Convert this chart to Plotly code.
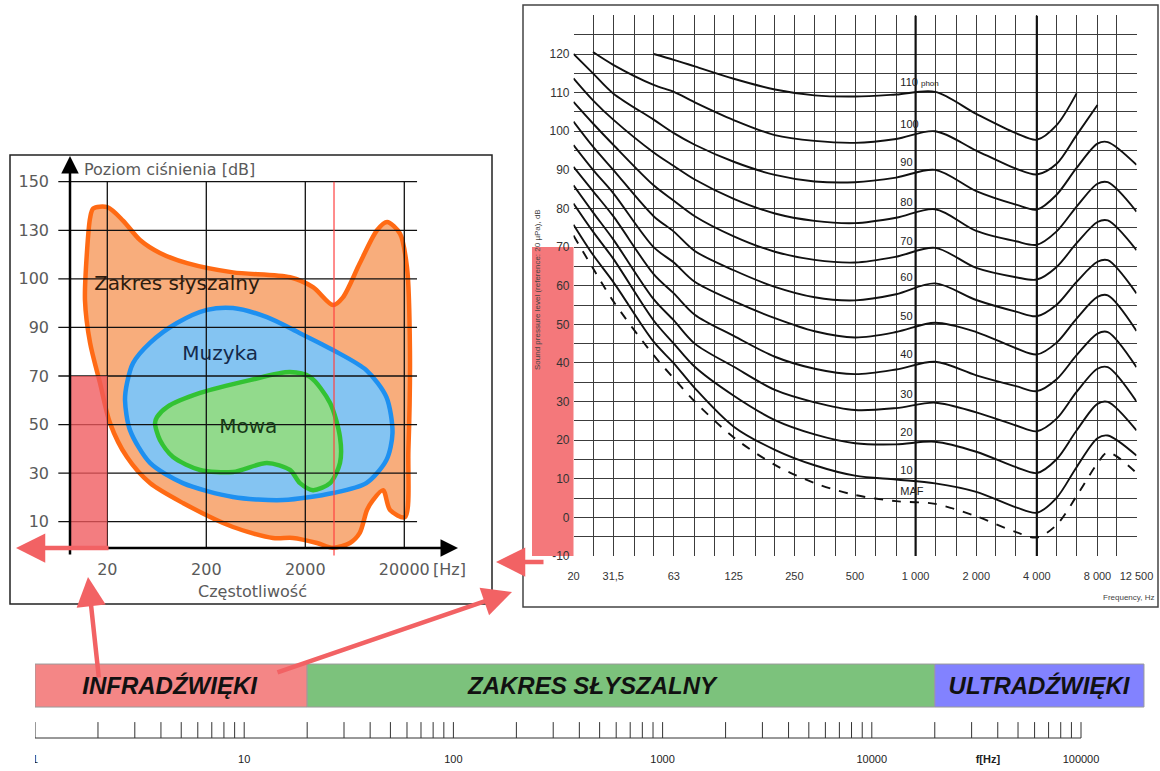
import numpy as np
import plotly.graph_objects as go

W, H = 1160, 771

# ======================= DATA =======================
# ---- left panel: auditory area (Zakres słyszalny / Muzyka / Mowa) ----
L_FREQ_TICKS = [20, 200, 2000, 20000]
L_FREQ_TICKTEXT = ["20", "200", "2000", "20000"]
L_DB_TICKS = [10, 30, 50, 70, 90, 100, 130, 150]

HEAR_F = [14.4, 20, 28.8, 42.8, 68, 128, 372, 1400, 2390, 3810, 4800, 7100, 10600, 13400,
          18100, 21300, 22800, 22000, 20300, 14350, 12200, 9650, 8400, 7100, 5650, 3810,
          2625, 1500, 942, 372, 116, 54, 31.6, 21.3, 16.9, 13.4, 11.9, 12.5, 13.4]
HEAR_DB = [139, 139.5, 134, 124, 116, 109.7, 104, 101, 98.3, 94.6, 96.2, 109.6, 130, 133.4,
           128, 107, 80.6, 39.5, 11.9, 14.8, 23, 18.9, 14.8, 5.8, 2, 0.2,
           2, 3.9, 3.9, 8, 17.7, 25.9, 36.6, 50.6, 67, 83.6, 95.6, 117.7, 135]

MUSIC_F = [31.6, 36.4, 54, 101, 203, 372, 820, 1767, 3810, 8260, 13200, 15200, 13200, 8260,
           3810, 1190, 372, 116, 54, 33.9, 30.2]
MUSIC_DB = [67, 75.3, 83.6, 90.9, 93.6, 94, 92.1, 87.6, 80.7, 72.4, 61.3, 46.5, 35.4, 25.9,
            21.8, 18.9, 20.2, 25.9, 34.2, 47.7, 60]

SPEECH_F = [63.6, 80.2, 173, 552, 1400, 2230, 3560, 4480, 4480, 3560, 2390, 1767, 1400, 820,
            372, 173, 92.3, 68, 60.7]
SPEECH_DB = [53.1, 57.2, 63, 68.3, 71.6, 69.6, 58.9, 44.9, 34.2, 25.9, 23, 25.9, 31.3, 34.2,
             30.5, 31.3, 36.6, 43.6, 50.6]

REGION_LABELS = ["Zakres słyszalny", "Muzyka", "Mowa"]
REGION_LABEL_F = [101, 276, 530]
REGION_LABEL_DB = [98.7, 78.6, 48.6]

INFRA_BOX_F = [8.4, 20]
INFRA_BOX_DB = [0, 70]
LIMIT_LINE_F = 3900

# ---- right panel: equal-loudness contours ----
ISO_F = [20, 25, 31.5, 50, 63, 80, 125, 200, 315, 500, 800, 1250, 2000, 3150, 4000, 5000,
         6300, 8000, 9000, 12500]
SPL_110 = [None, None, None, 120, 118.5, 116.8, 113.6, 110.8, 109.3, 109, 109.5, 110.2, 104.5,
           99.5, 97.8, 101.5, 109.8, None, None, None]
SPL_100 = [None, 120.5, 117.2, 112, 110.2, 107.5, 102.9, 99, 97.5, 97, 98, 100, 95, 90.3,
           88.8, 91.5, 99, 106.8, None, None]
SPL_90 = [120, 115, 109.8, 103, 99.5, 96.5, 92.1, 88.7, 87, 86.8, 88, 90, 84.5, 81, 79.7,
          83.5, 90.5, 96.8, 97.2, 91.3]
SPL_80 = [113.7, 108, 103, 94.5, 91, 87.5, 82.5, 78.7, 76.8, 76.2, 77.6, 79.8, 74.2, 71.5,
          70.6, 74, 80.5, 86.4, 86.8, 79.2]
SPL_70 = [107.6, 102, 96.5, 86, 82, 78, 72.8, 68.8, 66.7, 66, 67.5, 69.8, 64.6, 62.2, 61.6,
          64.8, 71, 76.5, 76.9, 69.2]
SPL_60 = [102.5, 96, 90, 78, 74, 69, 64, 59.7, 57, 56.2, 57.8, 60.6, 56.3, 53.3, 52.1, 55,
          61, 66.2, 66.6, 58]
SPL_50 = [96.4, 90, 84, 70, 66, 61, 56, 51.6, 48.2, 46.6, 48, 50.4, 48, 43.8, 42.2, 45.2,
          51.5, 57.1, 57.5, 48.3]
SPL_40 = [90.8, 84.5, 78, 63, 58, 52.5, 47, 41.6, 38.5, 37.1, 38.3, 40.3, 36.8, 34, 32.7,
          35.7, 42, 47.6, 48, 38.9]
SPL_30 = [86, 79, 72, 56.5, 51, 45, 39, 33, 29.8, 27.8, 28.3, 29.7, 27.2, 23.8, 22.3, 25.5,
          32.5, 38.5, 38.9, 30]
SPL_20 = [81.3, 74, 67, 51, 45, 39, 31.5, 25.2, 21.5, 19.2, 18.9, 19.6, 17, 13, 11.5, 15,
          22.5, 29.4, 29.9, 22.5]
SPL_10 = [75.8, 68, 61, 45.5, 39.9, 33.5, 23.5, 17.5, 13.5, 10.8, 9.8, 8.8, 6.6, 2.6, 1.2, 5,
          13, 20.5, 21.2, 16]
SPL_MAF = [73, 64.5, 56, 42, 36, 30, 20.7, 13.6, 8.9, 5.8, 4.2, 3.5, 0.3, -3.8, -5.2, -2,
           5.5, 14, 16.8, 11.5]
PHON_LABELS = ['110 <span style="font-size:8px">phon</span>', "100", "90", "80", "70", "60",
               "50", "40", "30", "20", "10", "MAF"]

THIRD_OCT = [20, 25, 31.5, 40, 50, 63, 80, 100, 125, 160, 200, 250, 315, 400, 500, 630, 800,
             1000, 1250, 1600, 2000, 2500, 3150, 4000, 5000, 6300, 8000, 10000, 12500]
R_FREQ_LABELED = [20, 31.5, 63, 125, 250, 500, 1000, 2000, 4000, 8000, 12500]
R_FREQ_TEXT = ["20", "31,5", "63", "125", "250", "500", "1 000", "2 000", "4 000", "8 000",
               "12 500"]
R_HEAVY_F = [1000, 4000]

# ---- bottom band ----
BANDS = ["INFRADŹWIĘKI", "ZAKRES SŁYSZALNY", "ULTRADŹWIĘKI"]
BAND_EDGES_HZ = [1, 20, 20000, 200000]
BAND_COLORS = ["#F48686", "#7CC27C", "#8282FF"]
BAND_LABEL_HZ = [4.4, 460, 63000]
B_AXIS_LABEL_HZ = [1, 10, 100, 1000, 10000, 100000]

# ======================= LAYOUT CONSTANTS (pixels) =======================
def px(x): return x / W
def py(y): return 1 - y / H

# left panel
L_X20_PX, L_PX_PER_DEC = 107.3, 99.0
L_XDOM = (56, 470)
L_SLOT0_PX, L_PX_PER_SLOT = 521.7, 48.57
L_YDOM = (160, 558)
SLOT_DB = [0] + L_DB_TICKS
SLOT_POS = [-0.547] + list(range(len(L_DB_TICKS)))
L_GRID_F = (6.4, 26900)

def slot(db):
    return np.interp(np.asarray(db, dtype=float), SLOT_DB, SLOT_POS)

# right panel
R_XDOM = (573.5, 1136.5)
R_YDOM = (15.4, 556)
R_YRANGE = (-10, 130)

# bottom
B_XDOM = (35, 1147)
B_PX_PER_DEC = 209.2
B_YDOM = (650, 771)
B_BASE_PX, B_UNIT_PX = 738, 43
BAR_Y = (0.72, 1.72)
TICK_H = 0.37

fig = go.Figure()

# ---------------- left panel ----------------
def closed(a):
    return list(a) + [a[0]]

blob_styles = [
    (HEAR_F, HEAR_DB, "#F8AD7C", "#FF6A14"),
    (MUSIC_F, MUSIC_DB, "#84C4F2", "#1E90F0"),
    (SPEECH_F, SPEECH_DB, "#92DA8C", "#33C233"),
]
for fx, dbs, fc, lc in blob_styles:
    fig.add_trace(go.Scatter(x=closed(fx), y=slot(closed(dbs)), mode="lines", fill="toself",
                             fillcolor=fc, line=dict(color=lc, width=4.5, shape="spline",
                                                     smoothing=0.8),
                             xaxis="x", yaxis="y", hoverinfo="skip", showlegend=False))

gx, gy = [], []
for s in range(len(L_DB_TICKS)):
    gx += [L_GRID_F[0], L_GRID_F[1], None]
    gy += [s, s, None]
for f in L_FREQ_TICKS:
    gx += [f, f, None]
    gy += [float(slot(0)), len(L_DB_TICKS) - 1, None]
fig.add_trace(go.Scatter(x=gx, y=gy, mode="lines", line=dict(color="#111", width=1.3),
                         xaxis="x", yaxis="y", hoverinfo="skip", showlegend=False))
fig.add_trace(go.Scatter(x=[LIMIT_LINE_F, LIMIT_LINE_F],
                         y=[float(slot(0)) - 0.15, len(L_DB_TICKS) - 1], mode="lines",
                         line=dict(color="#FF4040", width=1.2), xaxis="x", yaxis="y",
                         hoverinfo="skip", showlegend=False))
bx0, bx1 = INFRA_BOX_F
by0, by1 = slot(INFRA_BOX_DB)
fig.add_trace(go.Scatter(x=[bx0, bx1, bx1, bx0, bx0], y=[by0, by0, by1, by1, by0],
                         mode="lines", fill="toself", fillcolor="rgba(240,88,92,0.78)",
                         line=dict(width=0), xaxis="x", yaxis="y", hoverinfo="skip",
                         showlegend=False))
fig.add_trace(go.Scatter(x=REGION_LABEL_F, y=slot(REGION_LABEL_DB), mode="text",
                         text=REGION_LABELS,
                         textfont=dict(family="DejaVu Sans", size=20,
                                       color=["#2E1C0E", "#142A4C", "#173A17"]),
                         xaxis="x", yaxis="y", hoverinfo="skip", showlegend=False))

# ---------------- right panel ----------------
contours = [SPL_110, SPL_100, SPL_90, SPL_80, SPL_70, SPL_60, SPL_50, SPL_40, SPL_30,
            SPL_20, SPL_10, SPL_MAF]
for f in R_HEAVY_F:
    fig.add_trace(go.Scatter(x=[f, f], y=list(R_YRANGE), mode="lines",
                             line=dict(color="#111", width=2.2), xaxis="x2", yaxis="y2",
                             hoverinfo="skip", showlegend=False))
lab_x, lab_y = [], []
for i, c in enumerate(contours):
    dash = "dash" if i == len(contours) - 1 else "solid"
    fig.add_trace(go.Scatter(x=ISO_F, y=c, mode="lines",
                             line=dict(color="#111", width=1.9, dash=dash, shape="spline",
                                       smoothing=0.9),
                             xaxis="x2", yaxis="y2", hoverinfo="skip", showlegend=False))
    pts = [(np.log10(f), v) for f, v in zip(ISO_F, c) if v is not None]
    lf, lv = zip(*pts)
    lab_x.append(840)
    lab_y.append(float(np.interp(3.0, lf, lv)) + 2.6)
fig.add_trace(go.Scatter(x=lab_x, y=lab_y, mode="text", text=PHON_LABELS,
                         textposition="middle right",
                         textfont=dict(family="Liberation Sans", size=11, color="#222"),
                         xaxis="x2", yaxis="y2", hoverinfo="skip", showlegend=False))

# ---------------- bottom band ----------------
for i, name in enumerate(BANDS):
    a, b = BAND_EDGES_HZ[i], BAND_EDGES_HZ[i + 1]
    fig.add_trace(go.Scatter(x=[a, b, b, a, a],
                             y=[BAR_Y[0], BAR_Y[0], BAR_Y[1], BAR_Y[1], BAR_Y[0]],
                             mode="lines", fill="toself", fillcolor=BAND_COLORS[i],
                             line=dict(color="#9a9a9a", width=1), xaxis="x3", yaxis="y3",
                             hoverinfo="skip", showlegend=False))
fig.add_trace(go.Scatter(x=BAND_LABEL_HZ, y=[sum(BAR_Y) / 2 - 0.05] * 3, mode="text",
                         text=BANDS,
                         textfont=dict(family="Liberation Sans", size=24, color="#111",
                                       weight="bold", style="italic"),
                         xaxis="x3", yaxis="y3", hoverinfo="skip", showlegend=False))
tx, ty = [1, 100000, None], [0, 0, None]
for d in range(5):
    for m in range(1, 10):
        tx += [m * 10 ** d, m * 10 ** d, None]
        ty += [0, TICK_H, None]
tx += [100000, 100000, None]
ty += [0, TICK_H, None]
fig.add_trace(go.Scatter(x=tx, y=ty, mode="lines", line=dict(color="#333", width=1),
                         xaxis="x3", yaxis="y3", hoverinfo="skip", showlegend=False))
fig.add_trace(go.Scatter(x=B_AXIS_LABEL_HZ + [35900], y=[-0.52] * 7, mode="text",
                         text=[str(v) for v in B_AXIS_LABEL_HZ] + ["<b>f[Hz]</b>"],
                         textfont=dict(family="Liberation Sans", size=11, color="#222"),
                         xaxis="x3", yaxis="y3", hoverinfo="skip", showlegend=False))

# ---------------- axes ----------------
gray = "#5A5A5A"
fig.update_layout(
    width=W, height=H, margin=dict(l=0, r=0, t=0, b=0, autoexpand=False),
    paper_bgcolor="white", plot_bgcolor="rgba(0,0,0,0)", showlegend=False,
    xaxis=dict(type="log", domain=[px(L_XDOM[0]), px(L_XDOM[1])],
               range=[np.log10(20) - (L_X20_PX - L_XDOM[0]) / L_PX_PER_DEC,
                      np.log10(20) + (L_XDOM[1] - L_X20_PX) / L_PX_PER_DEC],
               tickvals=L_FREQ_TICKS, ticktext=L_FREQ_TICKTEXT, showgrid=False,
               zeroline=False, showline=False, ticks="", automargin=False,
               tickfont=dict(family="DejaVu Sans", size=16, color=gray),
               ticklabelstandoff=0, anchor="y"),
    yaxis=dict(domain=[py(L_YDOM[1]), py(L_YDOM[0])],
               range=[(L_SLOT0_PX - L_YDOM[1]) / L_PX_PER_SLOT,
                      (L_SLOT0_PX - L_YDOM[0]) / L_PX_PER_SLOT],
               tickvals=list(range(len(L_DB_TICKS))), ticktext=[str(v) for v in L_DB_TICKS],
               showgrid=False, zeroline=False, showline=False, ticks="", automargin=False,
               tickfont=dict(family="DejaVu Sans", size=16, color=gray),
               ticklabelstandoff=6, anchor="x"),
    xaxis2=dict(type="log", domain=[px(R_XDOM[0]), px(R_XDOM[1])],
                range=[np.log10(20), np.log10(12500)], tickvals=THIRD_OCT,
                ticktext=[R_FREQ_TEXT[R_FREQ_LABELED.index(f)] if f in R_FREQ_LABELED else ""
                          for f in THIRD_OCT],
                showgrid=True, gridcolor="#3C3C3C", gridwidth=1.4, zeroline=False,
                showline=False, ticks="", automargin=False,
                tickfont=dict(family="Liberation Sans", size=11, color="#333"),
                ticklabelstandoff=12, anchor="y2"),
    yaxis2=dict(domain=[py(R_YDOM[1]), py(R_YDOM[0])], range=list(R_YRANGE),
                tickvals=list(range(-10, 131, 5)),
                ticktext=[str(v) if v % 10 == 0 and v < 130 else "" for v in range(-10, 131, 5)],
                showgrid=True, gridcolor="#3C3C3C", gridwidth=1.4, zeroline=False,
                showline=False, ticks="", automargin=False,
                tickfont=dict(family="Liberation Sans", size=12, color="#333"),
                ticklabelstandoff=3, anchor="x2"),
    xaxis3=dict(type="log", domain=[px(B_XDOM[0]), px(B_XDOM[1])],
                range=[0, (B_XDOM[1] - B_XDOM[0]) / B_PX_PER_DEC], visible=False,
                automargin=False, anchor="y3"),
    yaxis3=dict(domain=[py(B_YDOM[1]), py(B_YDOM[0])],
                range=[-(B_YDOM[1] - B_BASE_PX) / B_UNIT_PX, (B_BASE_PX - B_YDOM[0]) / B_UNIT_PX],
                visible=False, automargin=False, anchor="x3"),
)

# ---------------- shapes (panel frames, highlight) ----------------
shapes = [
    dict(type="rect", xref="paper", yref="paper", x0=px(10), x1=px(492), y0=py(604), y1=py(155),
         line=dict(color="#222", width=1.5), fillcolor="rgba(0,0,0,0)", layer="below"),
    dict(type="rect", xref="paper", yref="paper", x0=px(523), x1=px(1158), y0=py(607), y1=py(5),
         line=dict(color="#444", width=1.5), fillcolor="rgba(0,0,0,0)", layer="below"),
]
r_px_per_db = (R_YDOM[1] - R_YDOM[0]) / (R_YRANGE[1] - R_YRANGE[0])
r_db_px = lambda v: R_YDOM[1] - (v - R_YRANGE[0]) * r_px_per_db
shapes.append(dict(type="rect", xref="paper", yref="paper", x0=px(532), x1=px(R_XDOM[0]),
                   y0=py(r_db_px(R_YRANGE[0])), y1=py(r_db_px(INFRA_BOX_DB[1])),
                   line=dict(width=0), fillcolor="rgba(242,96,100,0.85)", layer="below"))
fig.update_layout(shapes=shapes)

# ---------------- annotations ----------------
def arrow(head, tail, color, width, size):
    return dict(x=px(head[0]), y=py(head[1]), xref="paper", yref="paper",
                ax=tail[0] - head[0], ay=tail[1] - head[1], showarrow=True, arrowhead=2,
                arrowsize=size, arrowwidth=width, arrowcolor=color, text="", standoff=0)

red = "rgb(242,98,100)"
ann = [
    arrow((70, 156), (70, 556), "#000", 2.5, 1.4),
    arrow((458, 548), (56, 548), "#000", 2.5, 1.4),
    arrow((16, 548), (110, 548), red, 4.5, 1.3),
    arrow((496, 562), (545, 562), red, 4.5, 1.3),
    arrow((88, 577), (99, 679), red, 4.5, 1.3),
    arrow((512, 592), (276, 673), red, 4.5, 1.3),
    dict(x=px(82), y=py(169), xref="paper", yref="paper", text="Poziom ciśnienia [dB]",
         showarrow=False, xanchor="left", yanchor="middle",
         font=dict(family="DejaVu Sans", size=16, color=gray)),
    dict(x=px(252), y=py(591), xref="paper", yref="paper", text="Częstotliwość",
         showarrow=False, xanchor="center", yanchor="middle",
         font=dict(family="DejaVu Sans", size=16, color=gray)),
    dict(x=px(431), y=py(569), xref="paper", yref="paper", text="[Hz]",
         showarrow=False, xanchor="left", yanchor="middle",
         font=dict(family="DejaVu Sans", size=16, color=gray)),
    dict(x=px(537), y=py(290), xref="paper", yref="paper",
         text="Sound pressure level (reference: 20 µPa), dB", textangle=-90,
         showarrow=False, xanchor="center", yanchor="middle",
         font=dict(family="Liberation Sans", size=8, color="#444")),
    dict(x=px(1156), y=py(597), xref="paper", yref="paper", text="Frequency, Hz",
         showarrow=False, xanchor="right", yanchor="middle",
         font=dict(family="Liberation Sans", size=8, color="#444")),
]
fig.update_layout(annotations=ann)

fig.write_html("out.html", config={"displayModeBar": False},
               post_script="document.body.style.margin='0px';"
                           "document.body.style.overflow='hidden';")
